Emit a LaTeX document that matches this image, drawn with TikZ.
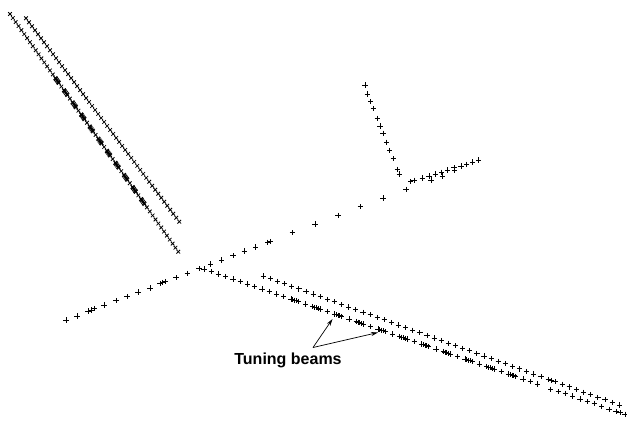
\documentclass[tikz,border=0pt]{standalone}
\usepackage{fontspec}
\setmainfont{Liberation Sans}
\usetikzlibrary{arrows.meta}

\tikzset{
  mk/.style={line width=0.9pt, black},
  xk/.style={line width=0.8pt, black},
  plusmark/.pic={\draw[mk] (-2.6,0) -- (2.6,0) (0,-2.6) -- (0,2.6);},
  crossmark/.pic={\draw[xk] (-1.8,-1.8) -- (1.8,1.8) (-1.8,1.8) -- (1.8,-1.8);},
  label/.style={font=\bfseries\fontsize{16}{18}\selectfont, inner sep=0pt, anchor=base},
  pointer/.style={line width=0.7pt, -{Stealth[length=7pt,width=4pt]}}
}

\begin{document}
\begin{tikzpicture}[x=1pt, y=-1pt]
\useasboundingbox (0,0) rectangle (627,421);

% --- upper left: two parallel tracks of x marks ---
% track A (with dashed stretch)
\foreach \k in {0,...,59}
  \pic at ({10+2.8525*\k},{14+4.0288*\k}) {crossmark};
\foreach \j in {0,...,10}
  \foreach \f in {0,1,...,5}
    \pic at ({10+(78+12.1*\j+\f-14)*0.70803},{78+12.1*\j+\f}) {crossmark};
% track B
\foreach \k in {0,...,51}
  \pic at ({26+3.0059*\k},{18.3+3.9882*\k}) {crossmark};

% --- main diagonal of + marks ---
\foreach \p in {(66,320),(77,316),(88,311),(91,310),(94,308.5),(104,305),
  (116,300.5),(127,296.5),(138,292),(150,288),(160,283.5),(162.5,282.5),
  (165,281.5),(176,277.7),(187.3,273.3),(199,268.5),(210.7,264),(221.7,260),
  (233,255.7),(244.3,251),(255.7,247),(267.7,242.3),(270,241.5),(292.3,232.7),
  (315,224),(338,215.3),(360.3,206.7),(383,198),(406,189.3)}
  \pic at \p {plusmark};

% upward branch
\foreach \p in {(365,85),(367.3,94),(370.7,101.7),(373.3,108.7),(377.3,118.3),
  (380,126),(383,133.3),(386.7,142.3),(389.7,150.3),(393.3,158.7),
  (397.3,169.3),(399.3,174)}
  \pic at \p {plusmark};

% right branch
\foreach \p in {(410.7,181.7),(414,180.3),(422.3,178),(429,176),(431,180),
  (435.3,174),(441.7,172.3),(442.3,176),(447.3,170),(454,167.7),(454.7,170.7),
  (461,166),(466.7,164.3),(472.7,162),(478.7,160)}
  \pic at \p {plusmark};

% --- lower right: beam track C (with tuning dashes) ---
\foreach \k in {0,...,46}
  \pic at ({204+7.25*\k},{269+2.5*\k}) {plusmark};
\foreach \j in {0,...,10}
  \foreach \f in {0.25,0.5,0.75}
    \pic at ({204+7.25*(12+3*\j+\f)},{269+2.5*(12+3*\j+\f)}) {plusmark};
% continuation of track C
\foreach \p in {(550.7,389.3),(558.3,391.7),(565.3,393.3),(572.7,396),
  (580,399),(587.3,401.7),(594.3,403.3),(601.7,406.7),(609,409.3),
  (616,411.7),(620,412.7),(625,414.3)}
  \pic at \p {plusmark};

% beam track D
\foreach \k in {0,...,39}
  \pic at ({263.3+7.12*\k},{276+0.3625*7.12*\k}) {plusmark};
\foreach \x in {548.3,551.7}
  \pic at (\x,{276+0.3625*(\x-263.3)}) {plusmark};
\foreach \j in {0,...,9}
  \pic at ({555+7.15*\j},{276+0.3625*(555+7.15*\j-263.3)}) {plusmark};

% --- label with pointers ---
\node[label] (lbl) at (288,364.5) {Tuning beams};
\coordinate (fork) at (313,347.5);
\coordinate (tipA) at (332.5,319);
\coordinate (tipB) at (378,332.5);
\draw[pointer] (fork) -- (tipA);
\draw[pointer] (fork) -- (tipB);
\end{tikzpicture}
\end{document}
